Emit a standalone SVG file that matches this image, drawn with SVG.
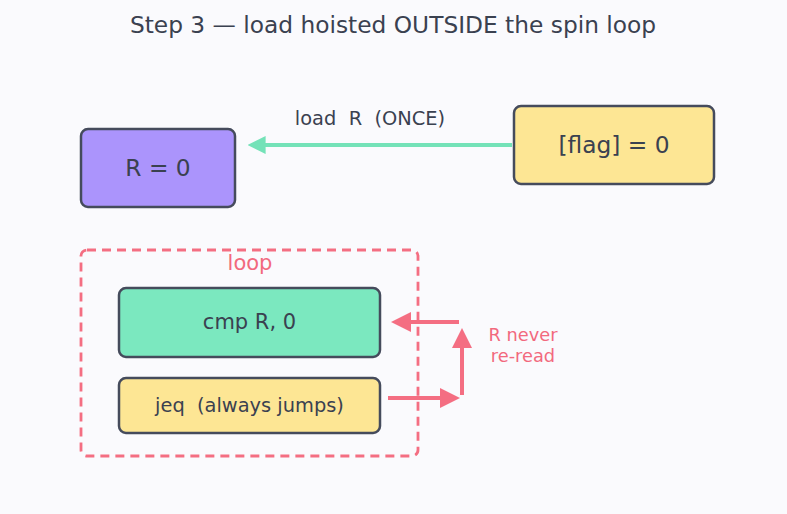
<svg xmlns="http://www.w3.org/2000/svg" width="787" height="514" viewBox="0 0 787 514">
<defs>
<style>
text{font-family:"DejaVu Sans","Liberation Sans",sans-serif;text-anchor:middle;dominant-baseline:central;white-space:pre}
.box{stroke:#454b5c;stroke-width:2.5}
.lbl{fill:#3a4150}
.pink{fill:#f2697e}
.conn{fill:none;stroke-width:4}
</style>
<marker id="ag" viewBox="0 0 10 10" refX="2" refY="5" markerWidth="4.5" markerHeight="4.5" orient="auto" markerUnits="strokeWidth"><path d="M0,0 L10,5 L0,10 z" fill="#74e2b8"/></marker>
<marker id="ap" viewBox="0 0 10 10" refX="2" refY="5" markerWidth="5" markerHeight="5" orient="auto" markerUnits="strokeWidth"><path d="M0,0 L10,5 L0,10 z" fill="#f46e82"/></marker>
</defs>
<rect width="787" height="514" fill="#fafafd"/>
<text x="393" y="24" font-size="23.3" class="lbl">Step 3 — load hoisted OUTSIDE the spin loop</text>
<g id="node-r">
<rect x="81" y="129" width="154" height="78" rx="7" fill="#ab94fc" class="box"/>
<text x="158" y="167" font-size="23.3" class="lbl">R = 0</text>
</g>
<g id="node-flag">
<rect x="514" y="106" width="200" height="78" rx="7" fill="#fde694" class="box"/>
<text x="614" y="144" font-size="23.3" class="lbl">[flag] = 0</text>
</g>
<g id="node-loop">
<rect x="81" y="250" width="337" height="206" rx="6" fill="none" stroke="#f46e82" stroke-width="2.8" stroke-dasharray="9,6"/>
<text x="250" y="263" font-size="21" class="pink">loop</text>
</g>
<g id="node-cmp">
<rect x="119" y="288" width="261" height="69" rx="7" fill="#7be8bf" class="box"/>
<text x="249.5" y="322" font-size="21" class="lbl">cmp R, 0</text>
</g>
<g id="node-jeq">
<rect x="119" y="378" width="261" height="55" rx="7" fill="#fde694" class="box"/>
<text x="249.5" y="405" font-size="19.4" class="lbl" xml:space="preserve">jeq  (always jumps)</text>
</g>
<g id="connectors">
<line x1="512" y1="145" x2="262" y2="145" class="conn" stroke="#74e2b8" marker-end="url(#ag)"/>
<text x="370" y="118" font-size="19.4" class="lbl" xml:space="preserve">load  R  (ONCE)</text>
<line x1="388" y1="398" x2="444" y2="398" class="conn" stroke="#f46e82" marker-end="url(#ap)"/>
<line x1="462" y1="395" x2="462" y2="344" class="conn" stroke="#f46e82" marker-end="url(#ap)"/>
<line x1="459" y1="322" x2="407" y2="322" class="conn" stroke="#f46e82" marker-end="url(#ap)"/>
<text x="523" y="334" font-size="17.8" class="pink">R never</text>
<text x="523" y="355" font-size="17.8" class="pink">re-read</text>
</g>
</svg>
